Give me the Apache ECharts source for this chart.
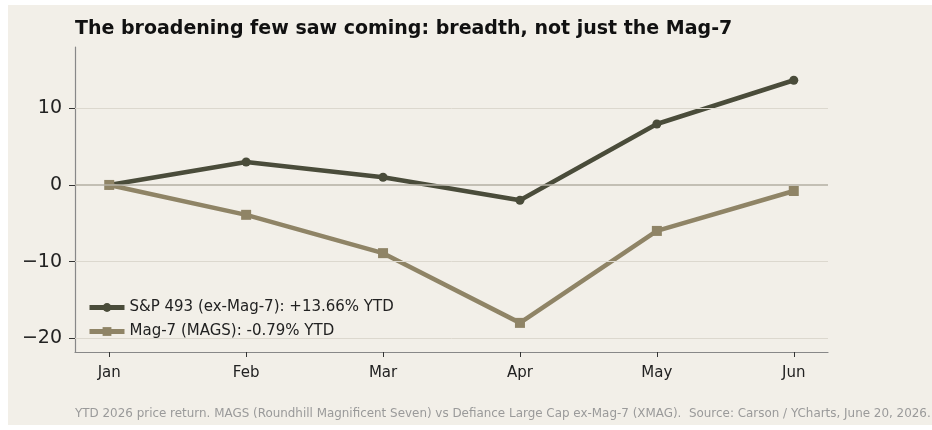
<!DOCTYPE html>
<html>
<head>
<meta charset="utf-8">
<script src="https://cdn.jsdelivr.net/npm/echarts@6/dist/echarts.min.js"></script>
<style>
  html, body { margin: 0; padding: 0; background: #ffffff; }
  #main { position: absolute; left: 8px; top: 5px; width: 924px; height: 420px; background: #f2efe8; }
</style>
</head>
<body>
<div id="main"></div>
<script>
var months = ['Jan', 'Feb', 'Mar', 'Apr', 'May', 'Jun'];
var sp493 = [0, 3.0, 1.0, -2.0, 7.95, 13.66];
var mag7 = [0, -3.9, -8.9, -18.0, -6.0, -0.79];
var yTicks = [-20, -10, 0, 10];
var xTicks = [0, 1, 2, 3, 4, 5];

var chartDom = document.getElementById('main');
var chart = echarts.init(chartDom);
var option;

var FONT = "'DejaVu Sans', sans-serif";

function pts(arr) {
    return arr.map(function (v, i) { return [i, v]; });
}

var darkCol = '#4a4c3a';
var lightCol = '#8f8466';

option = {
    backgroundColor: '#f2efe8',
    animation: false,
    textStyle: { fontFamily: FONT },
    title: {
        text: 'The broadening few saw coming: breadth, not just the Mag-7',
        left: 62,
        top: 10,
        textStyle: { fontFamily: FONT, fontWeight: 'bold', fontSize: 19, color: '#111111' }
    },
    graphic: [{
        type: 'text',
        left: 67,
        top: 403,
        style: {
            text: 'YTD 2026 price return. MAGS (Roundhill Magnificent Seven) vs Defiance Large Cap ex-Mag-7 (XMAG).  Source: Carson / YCharts, June 20, 2026.',
            fontFamily: FONT,
            fontSize: 11.93,
            fill: '#9a9a9a'
        }
    }],
    legend: {
        orient: 'vertical',
        left: 74,
        top: 290,
        itemWidth: 35,
        itemHeight: 11,
        itemGap: 9,
        lineStyle: { width: 5 },
        textStyle: { fontFamily: FONT, fontSize: 15, color: '#222222' },
        data: [
            { name: 'S&P 493 (ex-Mag-7): +13.66% YTD' },
            { name: 'Mag-7 (MAGS): -0.79% YTD' }
        ]
    },
    grid: { left: 67, right: 104, top: 42, bottom: 73 },
    xAxis: {
        type: 'value',
        min: -0.25,
        max: 5.25,
        splitLine: { show: false },
        axisLine: { onZero: false, lineStyle: { color: '#888888', width: 1.2 } },
        axisTick: { show: true, customValues: xTicks, length: 5, lineStyle: { color: '#333333' } },
        axisLabel: {
            customValues: xTicks,
            formatter: function (v) { return months[Math.round(v)]; },
            fontFamily: FONT,
            fontSize: 15,
            color: '#222222',
            margin: 14
        }
    },
    yAxis: {
        type: 'value',
        min: -21.8,
        max: 18,
        splitLine: { show: false },
        axisLine: { show: true, onZero: false, lineStyle: { color: '#888888', width: 1.2 } },
        axisTick: { show: true, customValues: yTicks, length: 6, lineStyle: { color: '#333333' } },
        axisLabel: {
            customValues: yTicks,
            formatter: function (v) { return String(v).replace('-', '\u2212'); },
            fontFamily: FONT,
            fontSize: 19,
            color: '#222222',
            margin: 13
        }
    },
    series: [
        {
            name: 'grid',
            type: 'line',
            data: [],
            silent: true,
            markLine: {
                symbol: 'none',
                silent: true,
                label: { show: false },
                data: [
                    { yAxis: 10, lineStyle: { color: '#dcd8ce', width: 1, type: 'solid' } },
                    { yAxis: -10, lineStyle: { color: '#dcd8ce', width: 1, type: 'solid' } },
                    { yAxis: -20, lineStyle: { color: '#dcd8ce', width: 1, type: 'solid' } },
                    { yAxis: 0, lineStyle: { color: '#b3afa3', width: 1.5, type: 'solid' } }
                ]
            }
        },
        {
            name: 'S&P 493 (ex-Mag-7): +13.66% YTD',
            type: 'line',
            data: pts(sp493),
            symbol: 'circle',
            symbolSize: 9,
            itemStyle: { color: darkCol },
            lineStyle: { color: darkCol, width: 4.5 },
            z: 3
        },
        {
            name: 'Mag-7 (MAGS): -0.79% YTD',
            type: 'line',
            data: pts(mag7),
            symbol: 'rect',
            symbolSize: 10,
            itemStyle: { color: lightCol },
            lineStyle: { color: lightCol, width: 4.5 },
            z: 4
        }
    ]
};

option && chart.setOption(option);
</script>
</body>
</html>
